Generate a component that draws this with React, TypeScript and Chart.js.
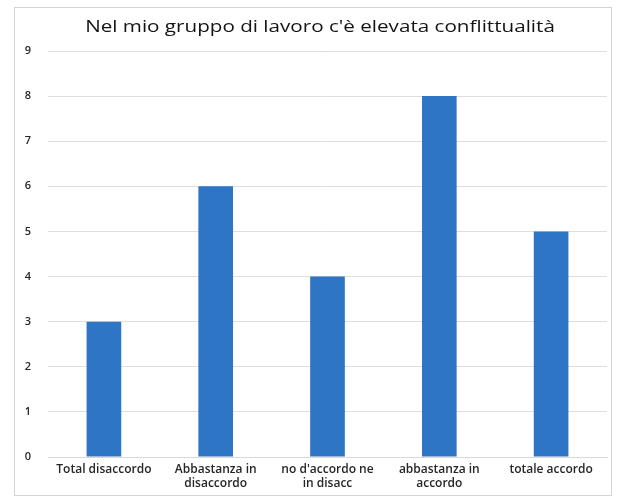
import React, { useEffect, useRef } from "react";
import { Chart, registerables } from "chart.js";

Chart.register(...registerables);

const TITLE = "Nel mio gruppo di lavoro c'è elevata conflittualità";
const CATEGORIES: (string | string[])[] = [
  "Total disaccordo",
  ["Abbastanza in", "disaccordo"],
  ["no d'accordo ne", "in disacc"],
  ["abbastanza in", "accordo"],
  "totale accordo",
];
const VALUES = [3, 6, 4, 8, 5];
const Y_MAX = 9;

const FONT = "'Open Sans', sans-serif";

const decorPlugin = {
  id: "decor",
  beforeDraw(chart: any) {
    const ctx = chart.ctx;
    ctx.save();
    ctx.fillStyle = "#ffffff";
    ctx.fillRect(0, 0, chart.width, chart.height);
    ctx.strokeStyle = "#d4d4d4";
    ctx.lineWidth = 1;
    ctx.strokeRect(14.5, 7.5, 597, 488);
    ctx.restore();
  },
  afterDraw(chart: any) {
    const ctx = chart.ctx;
    ctx.save();
    ctx.fillStyle = "#141414";
    ctx.font = `16.5px ${FONT}`;
    ctx.textAlign = "center";
    ctx.textBaseline = "alphabetic";
    ctx.translate(320, 32);
    ctx.scale(1.25, 1);
    ctx.fillText(TITLE, 0, 0);
    ctx.restore();
  },
};

export default function App() {
  const ref = useRef<HTMLCanvasElement>(null);
  useEffect(() => {
    if (!ref.current) return;
    const chart = new Chart(ref.current, {
      type: "bar",
      data: {
        labels: CATEGORIES,
        datasets: [
          {
            data: VALUES,
            backgroundColor: "#2f75c6",
            borderWidth: 0,
            barPercentage: 0.31,
            categoryPercentage: 1,
          },
        ],
      },
      plugins: [decorPlugin],
      options: {
        animation: false,
        responsive: false,
        maintainAspectRatio: false,
        layout: { padding: { top: 51, right: 18, bottom: 0, left: 0 } },
        plugins: {
          legend: { display: false },
          tooltip: { enabled: false },
          title: { display: false },
        },
        scales: {
          x: {
            grid: { display: false, drawTicks: false },
            border: { display: true, color: "#d9d9d9" },
            ticks: {
              color: "#262626",
              font: { family: FONT, size: 12, weight: "600", lineHeight: 1.2 },
              padding: 5,
              maxRotation: 0,
              autoSkip: false,
            },
            afterFit(scale: any) {
              scale.height = 42;
            },
          },
          y: {
            min: 0,
            max: Y_MAX,
            grid: { color: "#dedede", drawTicks: false },
            border: { display: false },
            ticks: {
              stepSize: 1,
              color: "#262626",
              font: { family: FONT, size: 11, weight: "600" },
              padding: 17,
            },
            afterFit(scale: any) {
              scale.width = 48;
            },
          },
        },
      },
    });
    return () => chart.destroy();
  }, []);
  return (
    <div style={{ position: "absolute", left: 0, top: 0, width: 625, height: 499 }}>
      <canvas ref={ref} width={625} height={499} style={{ display: "block" }} />
    </div>
  );
}
